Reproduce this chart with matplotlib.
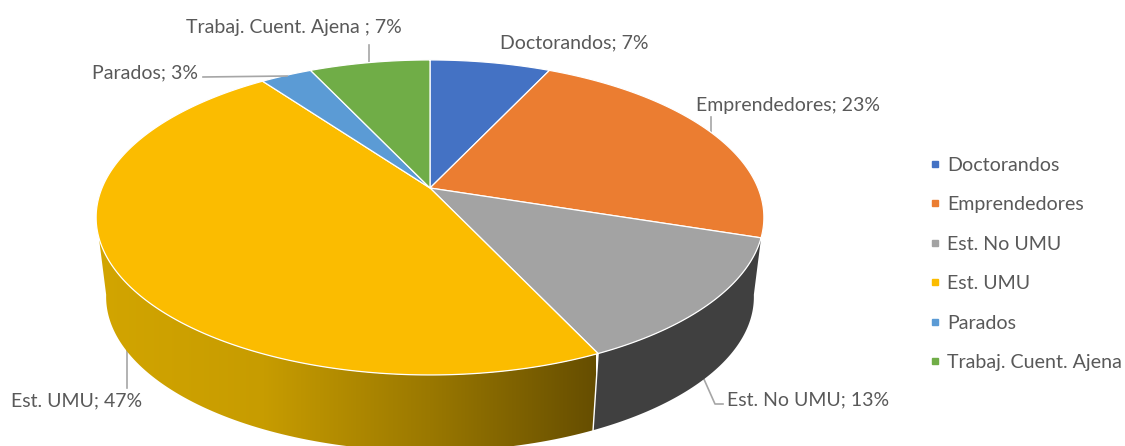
import numpy as np
import matplotlib
matplotlib.use('Agg')
import matplotlib.pyplot as plt
from matplotlib.colors import LinearSegmentedColormap
from matplotlib.lines import Line2D
from matplotlib.patches import Polygon

plt.rcParams['font.family'] = ['Lato', 'DejaVu Sans']

labels = ['Doctorandos', 'Emprendedores', 'Est. No UMU', 'Est. UMU', 'Parados', 'Trabaj. Cuent. Ajena']
values = [7, 23, 13, 47, 3, 7]
colors = ['#4472C4', '#EB7D31', '#A3A3A3', '#FBBC00', '#5B9BD5', '#70AD47']
data_labels = ['Doctorandos; 7%', 'Emprendedores; 23%', 'Est. No UMU; 13%',
               'Est. UMU; 47%', 'Parados; 3%', 'Trabaj. Cuent. Ajena ; 7%']

TXT = '#595959'
LEAD = '#A6A6A6'

# centro de la tarta y perspectiva, en pixeles
cx, cy = 430, 188
R, B, k = 328, 152, 0.187
depth = 80
sx, sy = 0.97, 0.98
side_a, side_b = 108, 252     # parte visible del lateral (grados)


def rim(theta, lower=False):
    t = np.radians(theta)
    u, v = np.sin(t), np.cos(t)
    d = 1 + k * v
    x = R * u / d
    y = -B * v / d
    if lower:
        return cx + sx * x, cy + depth + sy * y
    return cx + x, cy + y


fig = plt.figure(figsize=(11.25, 4.46), dpi=100)
ax = fig.add_axes([0, 0, 1, 1])

# lineas guia
ax.plot([711, 711], [117, 132], color=LEAD, lw=1.2, zorder=1)
ax.plot([369, 369], [45, 63], color=LEAD, lw=1.2, zorder=1)
ax.plot([203, 287], [77, 76], color=LEAD, lw=1.2, zorder=5)
ax.plot([127, 127], [345, 388], color=LEAD, lw=1.2, zorder=1)
ax.plot([703, 715, 723], [377, 404, 404], color=LEAD, lw=1.2, zorder=1)

edges = np.cumsum([0] + values) * 3.6

# lateral
grad = LinearSegmentedColormap.from_list('g', ['#D2A500', '#C79C00', '#9A7800', '#664E00'])
for i in range(len(values)):
    a = max(edges[i], side_a)
    b = min(edges[i + 1], side_b)
    if a >= b:
        continue
    th = np.linspace(a, b, 100)
    # el borde inferior sigue un poco mas alla de la silueta
    low_a = 100 if a == side_a else a
    low_b = 260 if b == side_b else b
    th_low = np.linspace(low_a, low_b, 100)
    xt, yt = rim(th)
    xb, yb = rim(th_low, lower=True)
    pts = np.column_stack([np.r_[xt, xb[::-1]], np.r_[yt, yb[::-1]]])
    if labels[i] == 'Est. UMU':
        poly = Polygon(pts, closed=True, fc='none', ec='none', zorder=2)
        ax.add_patch(poly)
        img = ax.imshow(np.linspace(0, 1, 256).reshape(1, -1), cmap=grad, aspect='auto',
                        extent=[98, 596, 446, 200], zorder=2)
        img.set_clip_path(poly)
    else:
        ax.add_patch(Polygon(pts, closed=True, fc='#404040', ec='none', zorder=2))

# separacion vertical entre los dos laterales
xt, yt = rim(edges[3])
xb, yb = rim(edges[3], lower=True)
ax.plot([xt, xb], [yt, yb], color='white', lw=1, zorder=3)

# cara superior
for i in range(len(values)):
    th = np.linspace(edges[i], edges[i + 1], 200)
    x, y = rim(th)
    pts = np.column_stack([np.r_[cx, x], np.r_[cy, y]])
    ax.add_patch(Polygon(pts, closed=True, fc=colors[i], ec='white', lw=0.9, zorder=4))

# etiquetas
label_pos = [(500, 43), (696, 105), (727, 400), (11, 401), (92, 73), (186, 28)]
for txt, (x, y) in zip(data_labels, label_pos):
    ax.text(x, y, txt, color=TXT, fontsize=14, ha='left', va='center', zorder=6)

# leyenda
handles = [Line2D([], [], ls='none', marker='s', ms=5, color=c) for c in colors]
ax.legend(handles, labels, loc='center left', bbox_to_anchor=(0.8226, 0.408), frameon=False,
          fontsize=14.1, labelcolor=TXT, labelspacing=1.15, handletextpad=0.1, handlelength=1.0,
          borderpad=0, borderaxespad=0)

ax.set_xlim(0, 1125)
ax.set_ylim(446, 0)
ax.axis('off')
plt.savefig('out.png', dpi=100)
